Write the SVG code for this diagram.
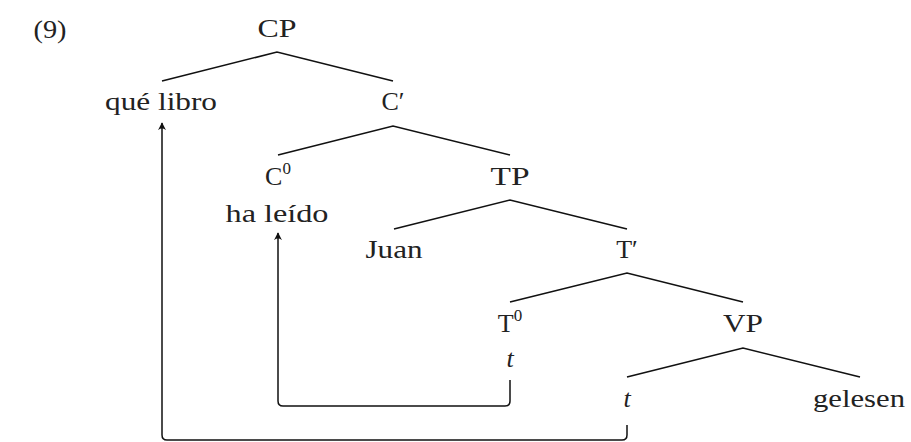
<svg xmlns="http://www.w3.org/2000/svg" width="911" height="442" viewBox="0 0 911 442">
<style>
text{font-family:"Liberation Serif","DejaVu Serif",serif;font-size:26px;fill:#222;text-anchor:middle}
.it{font-style:italic}
.e{stroke:#111;stroke-width:1.6;fill:none}
.mv{stroke:#111;stroke-width:1.5;fill:none;marker-end:url(#ah)}
</style>
<defs>
<marker id="ah" viewBox="0 0 10 10" refX="9" refY="5" markerWidth="8" markerHeight="8" markerUnits="userSpaceOnUse" orient="auto">
<path d="M0,0 Q4,5 0,10 L10,5 Z" fill="#111"/>
</marker>
</defs>
<rect width="911" height="442" fill="#fff"/>
<text x="50" y="38" textLength="33" lengthAdjust="spacingAndGlyphs">(9)</text>
<g id="connectors">
<path class="e" d="M162,81 L277,52 L393,81"/>
<path class="e" d="M278,155 L393,126 L510,155"/>
<path class="e" d="M394,229 L510,200 L627,229"/>
<path class="e" d="M510,302 L627,273 L743,302"/>
<path class="e" d="M627,377 L743,348 L860,377"/>
<path class="mv" d="M627,425 V435 Q627,440 622,440 H167 Q162,440 162,435 V123"/>
<path class="mv" d="M510,380 V401 Q510,406 505,406 H283 Q278,406 278,401 V233"/>
</g>
<g id="CP"><text x="277" y="37" textLength="39" lengthAdjust="spacingAndGlyphs">CP</text></g>
<g id="que-libro"><text x="161" y="110" textLength="112" lengthAdjust="spacingAndGlyphs">qué libro</text></g>
<g id="C-bar"><text x="393" y="110">C′</text></g>
<g id="C0"><text x="278" y="185">C<tspan font-size="17" dy="-11">0</tspan></text><text x="277" y="222" textLength="103" lengthAdjust="spacingAndGlyphs">ha leído</text></g>
<g id="TP"><text x="510" y="185" textLength="39" lengthAdjust="spacingAndGlyphs">TP</text></g>
<g id="Juan"><text x="394" y="258" textLength="57" lengthAdjust="spacingAndGlyphs">Juan</text></g>
<g id="T-bar"><text x="627" y="258">T′</text></g>
<g id="T0"><text x="510" y="332">T<tspan font-size="17" dy="-11">0</tspan></text><text class="it" x="510" y="367">t</text></g>
<g id="VP"><text x="743" y="332" textLength="40" lengthAdjust="spacingAndGlyphs">VP</text></g>
<g id="t-trace"><text class="it" x="627" y="407">t</text></g>
<g id="gelesen"><text x="859" y="407" textLength="92" lengthAdjust="spacingAndGlyphs">gelesen</text></g>
</svg>
